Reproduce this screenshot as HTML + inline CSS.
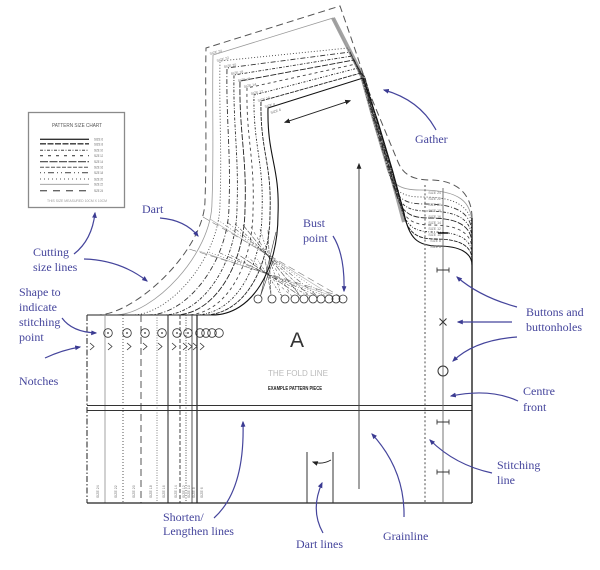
<!DOCTYPE html>
<html><head><meta charset="utf-8"><style>
html,body{margin:0;padding:0;background:#fff;}
svg{display:block;}
.p{fill:none;}
.s0{stroke:#555;stroke-dasharray:7 4;stroke-width:1}
.s1{stroke:#999;stroke-width:.8}
.s2{stroke:#444;stroke-dasharray:1 2;stroke-width:.9}
.s3{stroke:#333;stroke-dasharray:5 2 1 2;stroke-width:.9}
.s4{stroke:#333;stroke-dasharray:3 1.5 1 1.5;stroke-width:.9}
.s5{stroke:#222;stroke-dasharray:6 1.5;stroke-width:.9}
.s6{stroke:#444;stroke-dasharray:3 3;stroke-width:.9}
.s7{stroke:#222;stroke-dasharray:2 1.5 .7 1.5;stroke-width:.9}
.s8{stroke:#222;stroke-dasharray:4 1;stroke-width:.9}
.s9{stroke:#111;stroke-width:1.1}
.d path{stroke-width:.6;opacity:.8}
.lbl{font-family:"Liberation Serif",serif;font-size:12px;fill:#45459c;}
.tiny{font-family:"Liberation Sans",sans-serif;font-size:3.5px;fill:#777;}
.ar{fill:none;stroke:#45459c;stroke-width:1.2;}
</style></head><body>
<svg width="600" height="570" viewBox="0 0 600 570" xmlns="http://www.w3.org/2000/svg">
<defs>
<marker id="ab" viewBox="0 0 10 10" refX="8" refY="5" markerWidth="6" markerHeight="6" orient="auto" markerUnits="userSpaceOnUse"><path d="M0,1 L10,5 L0,9 z" fill="#3b3b92"/></marker>
<marker id="ak" viewBox="0 0 10 10" refX="8" refY="5" markerWidth="6" markerHeight="6" orient="auto-start-reverse" markerUnits="userSpaceOnUse"><path d="M0,1 L10,5 L0,9 z" fill="#222"/></marker>
</defs>
<rect width="600" height="570" fill="#fff"/>

<!-- size chart -->
<rect x="28.5" y="112.5" width="96" height="95" fill="#fff" stroke="#8a8a8a" stroke-width="1.3"/>
<text x="77" y="127" font-size="5.5" text-anchor="middle" fill="#555" font-family="Liberation Sans Narrow, Liberation Sans, sans-serif" textLength="50" lengthAdjust="spacingAndGlyphs">PATTERN SIZE CHART</text>
<g fill="none">
<path d="M40,139.3 L89,139.3" stroke="#333" stroke-width="1.4"/>
<path d="M40,143.8 L89,143.8" stroke="#333" stroke-width="1.3" stroke-dasharray="6 1.5"/>
<path d="M40,150.3 L89,150.3" stroke="#444" stroke-width="1" stroke-dasharray="3 1.5 1 1.5"/>
<path d="M40,155.7 L89,155.7" stroke="#444" stroke-width="1.1" stroke-dasharray="3 5"/>
<path d="M40,161.7 L89,161.7" stroke="#444" stroke-width="1.2" stroke-dasharray="8 1.5"/>
<path d="M40,167.3 L89,167.3" stroke="#555" stroke-width="1" stroke-dasharray="4 1.5"/>
<path d="M40,172.7 L89,172.7" stroke="#555" stroke-width="1.1" stroke-dasharray="1 3 1 3 6 3"/>
<path d="M40,179 L89,179" stroke="#555" stroke-width="1" stroke-dasharray="1 3"/>
<path d="M40,184.3 L89,184.3" stroke="#999" stroke-width=".8"/>
<path d="M40,190.7 L89,190.7" stroke="#666" stroke-width="1.3" stroke-dasharray="7 6"/>
</g>
<g font-family="Liberation Sans Narrow, Liberation Sans, sans-serif" font-size="3.6" fill="#666">
<text x="94" y="140.5" textLength="9" lengthAdjust="spacingAndGlyphs">SIZE 6</text>
<text x="94" y="145.5" textLength="9" lengthAdjust="spacingAndGlyphs">SIZE 8</text>
<text x="94" y="151.5" textLength="9" lengthAdjust="spacingAndGlyphs">SIZE 10</text>
<text x="94" y="157" textLength="9" lengthAdjust="spacingAndGlyphs">SIZE 12</text>
<text x="94" y="163" textLength="9" lengthAdjust="spacingAndGlyphs">SIZE 14</text>
<text x="94" y="168.5" textLength="9" lengthAdjust="spacingAndGlyphs">SIZE 16</text>
<text x="94" y="174" textLength="9" lengthAdjust="spacingAndGlyphs">SIZE 18</text>
<text x="94" y="180.3" textLength="9" lengthAdjust="spacingAndGlyphs">SIZE 20</text>
<text x="94" y="185.6" textLength="9" lengthAdjust="spacingAndGlyphs">SIZE 22</text>
<text x="94" y="192" textLength="9" lengthAdjust="spacingAndGlyphs">SIZE 24</text>
</g>
<text x="77" y="202" font-size="3.2" text-anchor="middle" fill="#999" font-family="Liberation Sans, sans-serif" textLength="60" lengthAdjust="spacingAndGlyphs">THIS SIZE MEASURED 10CM X 10CM</text>

<!-- band darkening -->
<path d="M333,18 L363,77 L375,120 L390,170 L400,207 L404,222" fill="none" stroke="#333" stroke-width="4" opacity=".45"/>

<!-- size outlines -->
<g class="p">
<path class="p s0" d="M472,218 C472,195 458,180 430,180 C412,180 403,174 398,162 L369,92 C362,70 352,40 340,6 L206,48 C205,98 207,150 205,200 C205,250 135,315 97,315"/>
<path class="p s1" d="M472,225 C472,202 460,190 420,190 C400,190 391,185 386,165 L372.6,120 L360.6,77 L333,18 L213,55 C212,105 214,152 212,202 C212,254 153,315 115,315"/>
<path class="p s2" d="M472,230 C472,209 460,197 422.5,197 C402.5,197 393.5,192 388.5,171 L373.2,120 L361.2,77 L348,48 L220,61 C219,111 222,153 220,203 C220,256 171,315 132,315"/>
<path class="p s3" d="M472,235 C472,215 460,204 424.7,204 C404.7,204 395.7,199 390.7,177 L373.8,120 L361.8,77 L350,52 L227,68 C226,118 231,155 229,205 C229,260 188,315 148,315"/>
<path class="p s4" d="M472,240 C472,221 460,211 426.9,211 C406.9,211 397.9,205 392.9,183 L389.4,170 L374.4,120 L362.4,77 L352,56 L234,75 C233,125 239,157 237,207 C237,262 203,315 163,315"/>
<path class="p s5" d="M472,245 C472,227 460,218 429.1,218 C409.1,218 400.1,212 395.1,189 L390,170 L375,120 L363,77 L354,60 L240,81 C239,131 247,158 245,208 C245,263 215,315 175,315"/>
<path class="p s6" d="M472,250 C472,234 460,225 431.4,225 C411.4,225 402.4,219 397.4,195 L390.6,170 L375.6,120 L363.6,77 L356,64 L247,88 C246,138 255,160 253,210 C253,265 226,315 186,315"/>
<path class="p s7" d="M472,255 C472,240 460,232 433.6,232 C413.6,232 404.6,226 399.6,201 L391.2,170 L376.2,120 L364.2,77 L358,68 L254,95 C253,145 264,162 262,212 C262,267 235,315 195,315"/>
<path class="p s8" d="M472,260 C472,246 460,239 435.8,239 C415.8,239 406.8,233 401.8,207 L391.8,170 L376.8,120 L364.8,77 L361,73 L261,101 C260,151 272,163 270,213 C270,268 244,315 204,315"/>
<path class="p s9" d="M472,265 C472,253 460,246 438,246 C418,246 409,239 404,213 L402.4,207 L392.4,170 L377.4,120 L363,78 L268,108 C267,158 280,165 278,215 C278,270 252,315 212,315"/>
</g>

<!-- darts -->
<g class="d">
<path class="p s0" d="M203,217 L339.5,296 L189,249"/>
<path class="p s1" d="M210,219 L332.5,296 L199,251"/>
<path class="p s2" d="M218,220 L325.5,296 L209,252"/>
<path class="p s3" d="M227,222 L317.5,296 L220,253"/>
<path class="p s4" d="M235,224 L309.5,296 L230,255"/>
<path class="p s5" d="M243,225 L300.5,296 L239,255"/>
<path class="p s6" d="M251,227 L291.5,296 L248,257"/>
<path class="p s7" d="M260,229 L281.5,296 L257,259"/>
<path class="p s8" d="M268,230 L271,295 L265,259"/>
<path class="p s9" d="M276,232 L260.5,296 L273,261"/>
</g>
<g fill="none" stroke="#333" stroke-width=".8">
<circle cx="258" cy="299" r="4"/><circle cx="272" cy="299" r="4"/><circle cx="285" cy="299" r="4"/>
<circle cx="295" cy="299" r="4"/><circle cx="304" cy="299" r="4"/><circle cx="313" cy="299" r="4"/>
<circle cx="321" cy="299" r="4"/><circle cx="329" cy="299" r="4"/><circle cx="336" cy="299" r="4"/>
<circle cx="343" cy="299" r="4"/>
</g>

<!-- shoulder size labels -->
<g class="tiny">
<text transform="translate(210,55) rotate(-15)">SIZE 24</text>
<text transform="translate(217,62) rotate(-15)">SIZE 22</text>
<text transform="translate(224,68) rotate(-10)">SIZE 20</text>
<text transform="translate(231,75) rotate(-10)">SIZE 18</text>
<text transform="translate(238,82) rotate(-10)">SIZE 16</text>
<text transform="translate(244,88) rotate(-12)">SIZE 14</text>
<text transform="translate(251,95) rotate(-12)">SIZE 12</text>
<text transform="translate(258,102) rotate(-15)">SIZE 10</text>
<text transform="translate(265,108) rotate(-15)">SIZE 8</text>
<text transform="translate(271,114) rotate(-18)">SIZE 6</text>
</g>
<g class="tiny" text-anchor="end">
<text x="441" y="194">SIZE 24</text><text x="441" y="200">SIZE 22</text><text x="441" y="206">SIZE 20</text>
<text x="441" y="212">SIZE 18</text><text x="441" y="218">SIZE 16</text><text x="441" y="224">SIZE 14</text>
<text x="441" y="230">SIZE 12</text><text x="441" y="236">SIZE 10</text><text x="441" y="242">SIZE 8</text>
<text x="441" y="248">SIZE 6</text>
</g>

<!-- rectangle body -->
<g fill="none">
<path d="M87,315 L212,315" stroke="#222" stroke-width="1"/>
<path d="M87,315 L87,503" stroke="#333" stroke-width="1.1" stroke-dasharray="6 2 1.5 2"/>
<path d="M105,315 L105,503" stroke="#999" stroke-width=".9"/>
<path d="M123,315 L123,503" stroke="#444" stroke-width=".9" stroke-dasharray="1 2"/>
<path d="M141,315 L141,503" stroke="#555" stroke-width="1" stroke-dasharray="7 4"/>
<path d="M157,315 L157,503" stroke="#777" stroke-width=".9" stroke-dasharray="1 1.5"/>
<path d="M168,315 L168,503" stroke="#222" stroke-width="1"/>
<path d="M180,315 L180,503" stroke="#333" stroke-width=".9" stroke-dasharray="4 2"/>
<path d="M186,315 L186,503" stroke="#444" stroke-width=".9" stroke-dasharray="1 1.5"/>
<path d="M192,315 L192,503" stroke="#444" stroke-width=".9"/>
<path d="M197,315 L197,503" stroke="#111" stroke-width="1.1"/>
<path d="M87,405.5 L472,405.5 M87,410.5 L472,410.5" stroke="#333" stroke-width="1"/>
<path d="M87,503 L472,503" stroke="#222" stroke-width="1.3"/>
<path d="M472,218 L472,503" stroke="#111" stroke-width="1.3"/>
<path d="M425,185 L425,503" stroke="#777" stroke-width="1.3" stroke-dasharray="2 2.2"/>
<path d="M443,188 L443,503" stroke="#666" stroke-width=".9"/>
<path d="M438,233 L448,233" stroke="#111" stroke-width="1.5"/>
<path d="M437,270 L449,270 M437,267.5 L437,272.5 M449,267.5 L449,272.5" stroke="#333" stroke-width=".9"/>
<path d="M437,422 L449,422 M437,419.5 L437,424.5 M449,419.5 L449,424.5" stroke="#333" stroke-width=".9"/>
<path d="M437,472 L449,472 M437,469.5 L437,474.5 M449,469.5 L449,474.5" stroke="#333" stroke-width=".9"/>
<path d="M439.5,318.5 L446.5,325.5 M446.5,318.5 L439.5,325.5" stroke="#333" stroke-width="1"/>
<circle cx="443" cy="371" r="5" stroke="#333" stroke-width="1"/>
<path d="M307,452 L307,503 M333,452 L333,503" stroke="#333" stroke-width="1"/>
<path d="M331,460 Q322,465 313,462" stroke="#222" stroke-width=".9" marker-end="url(#ak)"/>
<path d="M359,489 L359,164" stroke="#444" stroke-width="1" marker-end="url(#ak)"/>
<path d="M285,122.3 L350,100.7" stroke="#222" stroke-width="1" marker-start="url(#ak)" marker-end="url(#ak)"/>
</g>

<!-- stitch point circles & notches -->
<g fill="none" stroke="#333" stroke-width=".8">
<circle cx="108" cy="333" r="4.3"/><circle cx="127" cy="333" r="4.3"/><circle cx="145" cy="333" r="4.3"/>
<circle cx="162" cy="333" r="4.3"/><circle cx="177" cy="333" r="4.3"/><circle cx="188" cy="333" r="4.3"/>
<circle cx="200" cy="333" r="4.3"/><circle cx="206" cy="333" r="4.3"/><circle cx="212" cy="333" r="4.3"/>
<circle cx="219" cy="333" r="4.3"/>
<path d="M90,343 L94,346.5 L90,350 M108,343 L112,346.5 L108,350 M127,343 L131,346.5 L127,350 M143,343 L147,346.5 L143,350 M158,343 L162,346.5 L158,350 M172,343 L176,346.5 L172,350 M183,343 L187,346.5 L183,350 M188,343 L192,346.5 L188,350 M193,343 L197,346.5 L193,350 M200,343 L204,346.5 L200,350"/>
</g>
<g fill="#333">
<circle cx="108" cy="333" r=".9"/><circle cx="127" cy="333" r=".9"/><circle cx="145" cy="333" r=".9"/>
<circle cx="162" cy="333" r=".9"/><circle cx="177" cy="333" r=".9"/><circle cx="188" cy="333" r=".9"/>
</g>

<!-- bottom size labels -->
<g class="tiny" fill="#555">
<text transform="translate(99,498) rotate(-90)">SIZE 24</text>
<text transform="translate(117,498) rotate(-90)">SIZE 22</text>
<text transform="translate(135,498) rotate(-90)">SIZE 20</text>
<text transform="translate(152,498) rotate(-90)">SIZE 18</text>
<text transform="translate(165,498) rotate(-90)">SIZE 16</text>
<text transform="translate(177,498) rotate(-90)">SIZE 14</text>
<text transform="translate(185,498) rotate(-90)">SIZE 12</text>
<text transform="translate(190,498) rotate(-90)">SIZE 10</text>
<text transform="translate(195,498) rotate(-90)">SIZE 8</text>
<text transform="translate(203,498) rotate(-90)">SIZE 6</text>
</g>

<!-- centre labels -->
<text x="297" y="347" font-family="Liberation Sans, sans-serif" font-size="21" fill="#333" text-anchor="middle">A</text>
<text x="298" y="376" font-family="Liberation Sans, sans-serif" font-size="8" fill="#bbb" text-anchor="middle" textLength="60" lengthAdjust="spacingAndGlyphs">THE FOLD LINE</text>
<text x="295" y="390" font-family="Liberation Sans Narrow, Liberation Sans, sans-serif" font-size="5.5" font-weight="bold" fill="#222" text-anchor="middle" textLength="54" lengthAdjust="spacingAndGlyphs">EXAMPLE PATTERN PIECE</text>

<!-- annotation arrows -->
<g class="ar">
<path d="M160,218 Q185,220 198,236" marker-end="url(#ab)"/>
<path d="M74,254 Q92,240 95,213" marker-end="url(#ab)"/>
<path d="M84,259 Q120,260 147,281" marker-end="url(#ab)"/>
<path d="M62,318 Q72,332 96,333" marker-end="url(#ab)"/>
<path d="M45,358 Q62,350 80,347" marker-end="url(#ab)"/>
<path d="M333,236 Q345,255 344,291" marker-end="url(#ab)"/>
<path d="M436,130 Q420,100 384,90" marker-end="url(#ab)"/>
<path d="M517,307 Q480,297 457,277" marker-end="url(#ab)"/>
<path d="M512,322 L458,322" marker-end="url(#ab)"/>
<path d="M517,337 Q475,340 453,361" marker-end="url(#ab)"/>
<path d="M518,401 Q490,388 451,396" marker-end="url(#ab)"/>
<path d="M492,473 Q455,465 430,440" marker-end="url(#ab)"/>
<path d="M214,518 Q245,490 243,422" marker-end="url(#ab)"/>
<path d="M323,533 Q310,510 322,483" marker-end="url(#ab)"/>
<path d="M404,517 Q405,470 372,434" marker-end="url(#ab)"/>
</g>

<!-- annotation labels -->
<g class="lbl">
<text x="142" y="213">Dart</text>
<text x="33" y="256">Cutting</text>
<text x="33" y="271">size lines</text>
<text x="19" y="296">Shape to</text>
<text x="19" y="311">indicate</text>
<text x="19" y="326">stitching</text>
<text x="19" y="341">point</text>
<text x="19" y="385">Notches</text>
<text x="303" y="227">Bust</text>
<text x="303" y="242">point</text>
<text x="415" y="143">Gather</text>
<text x="526" y="316">Buttons and</text>
<text x="526" y="331">buttonholes</text>
<text x="523" y="395">Centre</text>
<text x="523" y="411">front</text>
<text x="497" y="469">Stitching</text>
<text x="497" y="484">line</text>
<text x="163" y="521">Shorten/</text>
<text x="163" y="535">Lengthen lines</text>
<text x="296" y="548">Dart lines</text>
<text x="383" y="540">Grainline</text>
</g>
</svg>
</body></html>
